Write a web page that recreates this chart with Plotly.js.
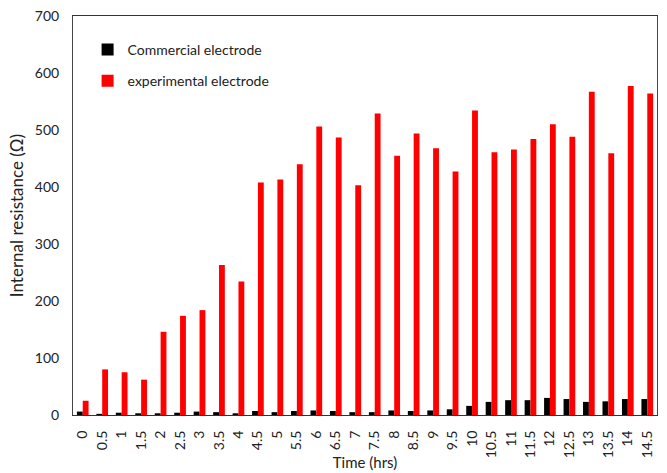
<!DOCTYPE html>
<html>
<head>
<meta charset="utf-8">
<script src="https://cdn.plot.ly/plotly-3.0.1.min.js"></script>
<style>
  html, body { margin: 0; padding: 0; background: #fff; }
  #chart { width: 667px; height: 473px; }
</style>
</head>
<body>
<div id="chart"></div>
<script>
// Sampling times (hours)
const times = ['0','0.5','1','1.5','2','2.5','3','3.5','4','4.5','5','5.5','6','6.5','7',
               '7.5','8','8.5','9','9.5','10','10.5','11','11.5','12','12.5','13','13.5','14','14.5'];

// Internal resistance (Ω) of each electrode
const commercial = [6, 2, 4, 3, 3, 4, 6, 5, 3, 7, 5, 7, 8, 7, 5,
                    5, 8, 7, 8, 10, 16, 23, 26, 26, 30, 28, 23, 24, 28, 28];
const experimental = [25, 80, 75, 62, 146, 174, 184, 263, 234, 408, 413, 440, 506, 487, 403,
                      529, 455, 494, 468, 427, 534, 461, 466, 484, 510, 488, 567, 459, 577, 564];

const yTicks = [0, 100, 200, 300, 400, 500, 600, 700];

const font = 'Lato, "Open Sans", sans-serif';

const traces = [
  {
    type: 'bar', name: 'Commercial electrode', x: times, y: commercial,
    marker: { color: '#000000' }, legendgroup: 'a'
  },
  {
    type: 'bar', name: 'experimental electrode', x: times, y: experimental,
    marker: { color: '#ff0000' }, legendgroup: 'b'
  }
];

const layout = {
  width: 667, height: 473,
  margin: { l: 73, r: 10, t: 16, b: 58 },
  paper_bgcolor: '#ffffff', plot_bgcolor: '#ffffff',
  font: { family: font, size: 14, color: '#222' },
  barmode: 'group', bargap: 0.4, bargroupgap: 0,
  showlegend: true,
  legend: {
    x: 0.025, y: 0.955, xanchor: 'left', yanchor: 'top',
    bgcolor: 'rgba(0,0,0,0)', traceorder: 'grouped', tracegroupgap: 10,
    font: { family: font, size: 14, color: '#222' }
  },
  xaxis: {
    type: 'category', tickangle: -90, showgrid: false, zeroline: false,
    showline: true, linecolor: '#333', linewidth: 1, mirror: true,
    ticks: '', ticklabelstandoff: 9, tickfont: { family: font, size: 14, color: '#222' },
    title: { text: 'Time (hrs)', font: { family: font, size: 15, color: '#222' }, standoff: 0 }
  },
  yaxis: {
    range: [0, 700], tickvals: yTicks, showgrid: false, zeroline: false,
    showline: true, linecolor: '#444', linewidth: 1, mirror: true,
    ticks: '', ticklabelstandoff: 10, tickfont: { family: font, size: 14, color: '#222' },
    title: { text: 'Internal resistance (Ω)', font: { family: font, size: 17, color: '#222' }, standoff: 6 }
  }
};

Plotly.newPlot('chart', traces, layout, { displayModeBar: false, staticPlot: true });
</script>
</body>
</html>
